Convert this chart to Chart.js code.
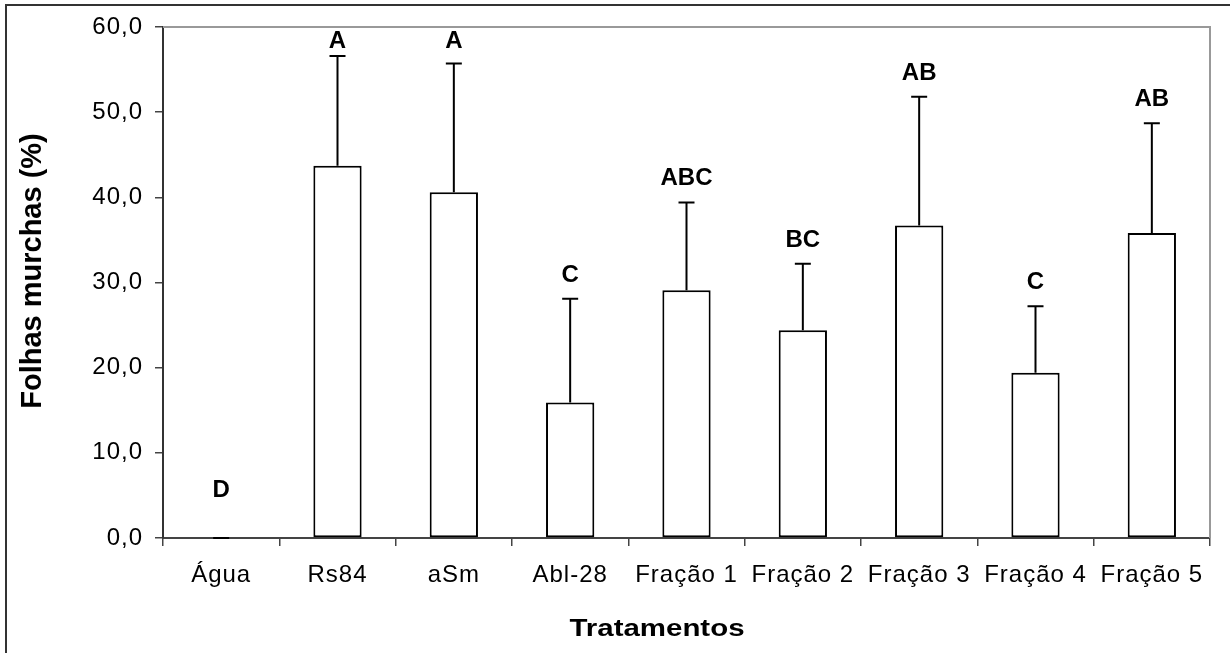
<!DOCTYPE html>
<html>
<head>
<meta charset="utf-8">
<script src="https://cdn.jsdelivr.net/npm/chart.js@4"></script>
<style>
  html, body { margin: 0; padding: 0; background: #fff; }
  #graph { display: block; }
</style>
</head>
<body>
<canvas id="graph" width="1230" height="653"></canvas>
<script>
const canv = /**@type {HTMLCanvasElement}*/(document.getElementById("graph"))
const ctx = canv.getContext("2d")

// treatments, mean % wilted leaves, standard deviation and Tukey groups
const tratamentos = ["Água", "Rs84", "aSm", "Abl-28", "Fração 1", "Fração 2", "Fração 3", "Fração 4", "Fração 5"]
const folhasMurchas = [0.0, 43.7, 40.6, 15.9, 29.1, 24.4, 36.7, 19.4, 35.8]
const desvio = [0.0, 12.9, 15.1, 12.2, 10.3, 7.8, 15.1, 7.8, 12.9]
const letras = ["D", "A", "A", "C", "ABC", "BC", "AB", "C", "AB"]
const yTicks = [0, 10, 20, 30, 40, 50, 60]

const FONT = "'Liberation Sans', Arial, sans-serif"

// outer frame plus the grey top/right edge of the plot area
const framePlugin = {
    id: "frame",
    beforeDraw(chart) {
        const c = chart.ctx
        c.save()
        c.fillStyle = "#fff"
        c.fillRect(0, 0, chart.width, chart.height)
        c.strokeStyle = "#333"
        c.lineWidth = 2
        c.strokeRect(6, 5, chart.width + 20, chart.height + 20)
        c.restore()
        // slightly wider tracking on the tick labels
        c.letterSpacing = "1px"
    },
    afterDatasetsDraw(chart) {
        const c = chart.ctx
        const a = chart.chartArea
        c.save()
        c.strokeStyle = "#999"
        c.lineWidth = 2
        c.beginPath()
        c.moveTo(a.left, a.top)
        c.lineTo(a.right, a.top)
        c.lineTo(a.right, a.bottom)
        c.stroke()
        c.restore()
    }
}

// error bars (upper half only) and group letters above them
const errorPlugin = {
    id: "errors",
    afterDatasetsDraw(chart) {
        const c = chart.ctx
        const y = chart.scales.y
        const meta = chart.getDatasetMeta(0)
        c.save()
        c.letterSpacing = "0px"
        c.strokeStyle = "#000"
        c.lineWidth = 2
        meta.data.forEach((bar, i) => {
            const topY = y.getPixelForValue(folhasMurchas[i] + desvio[i])
            const baseY = y.getPixelForValue(folhasMurchas[i])
            c.beginPath()
            c.moveTo(bar.x, baseY)
            c.lineTo(bar.x, topY)
            c.moveTo(bar.x - 8, topY)
            c.lineTo(bar.x + 8, topY)
            c.stroke()

            const anchor = y.getPixelForValue(Math.max(folhasMurchas[i] + desvio[i], 2.8))
            const textY = Math.max(anchor - 17, chart.chartArea.top + 21)
            c.fillStyle = "#000"
            c.font = "bold 24px " + FONT
            c.textAlign = "center"
            c.textBaseline = "alphabetic"
            c.fillText(letras[i], bar.x, textY)
        })
        c.restore()
    },
    afterDraw(chart) {
        const c = chart.ctx
        c.save()
        c.letterSpacing = "0px"
        c.fillStyle = "#000"
        c.textAlign = "center"
        c.textBaseline = "middle"
        // x title, stretched like the rest of the lettering
        c.save()
        c.translate(657, 630)
        c.scale(1.28, 1)
        c.font = "bold 23px " + FONT
        c.fillText("Tratamentos", 0, 0)
        c.restore()
        // y title
        c.save()
        c.translate(33, 271)
        c.rotate(-Math.PI / 2)
        c.font = "bold 29px " + FONT
        c.fillText("Folhas murchas (%)", 0, 0)
        c.restore()
        c.restore()
    }
}

new Chart(ctx, {
    type: "bar",
    data: {
        labels: tratamentos,
        datasets: [{
            data: folhasMurchas,
            backgroundColor: "#fff",
            borderColor: "#000",
            borderWidth: 2,
            borderSkipped: false,
            barPercentage: 0.415,
            categoryPercentage: 1
        }]
    },
    options: {
        responsive: false,
        animation: false,
        layout: { padding: { top: 27, right: 20, left: 0, bottom: 0 } },
        plugins: {
            legend: { display: false },
            tooltip: { enabled: false }
        },
        scales: {
            x: {
                afterFit: s => { s.height = 115 },
                grid: { drawOnChartArea: false, drawTicks: true, tickLength: 8, color: "#444", lineWidth: 1.5 },
                border: { display: true, color: "#444", width: 2 },
                ticks: { color: "#000", font: { family: FONT, size: 24 }, padding: 15, maxRotation: 0, autoSkip: false }
            },
            y: {
                min: 0,
                max: 60,
                afterFit: s => { s.width = 163 },
                afterBuildTicks: s => { s.ticks = yTicks.map(v => ({ value: v })) },
                grid: { drawOnChartArea: false, drawTicks: true, tickLength: 8, color: "#444", lineWidth: 1.5 },
                border: { display: true, color: "#333", width: 2 },
                ticks: {
                    color: "#000",
                    font: { family: FONT, size: 24 },
                    padding: 12,
                    callback: v => v.toFixed(1).replace(".", ",")
                }
            }
        }
    },
    plugins: [framePlugin, errorPlugin]
})
</script>
</body>
</html>
